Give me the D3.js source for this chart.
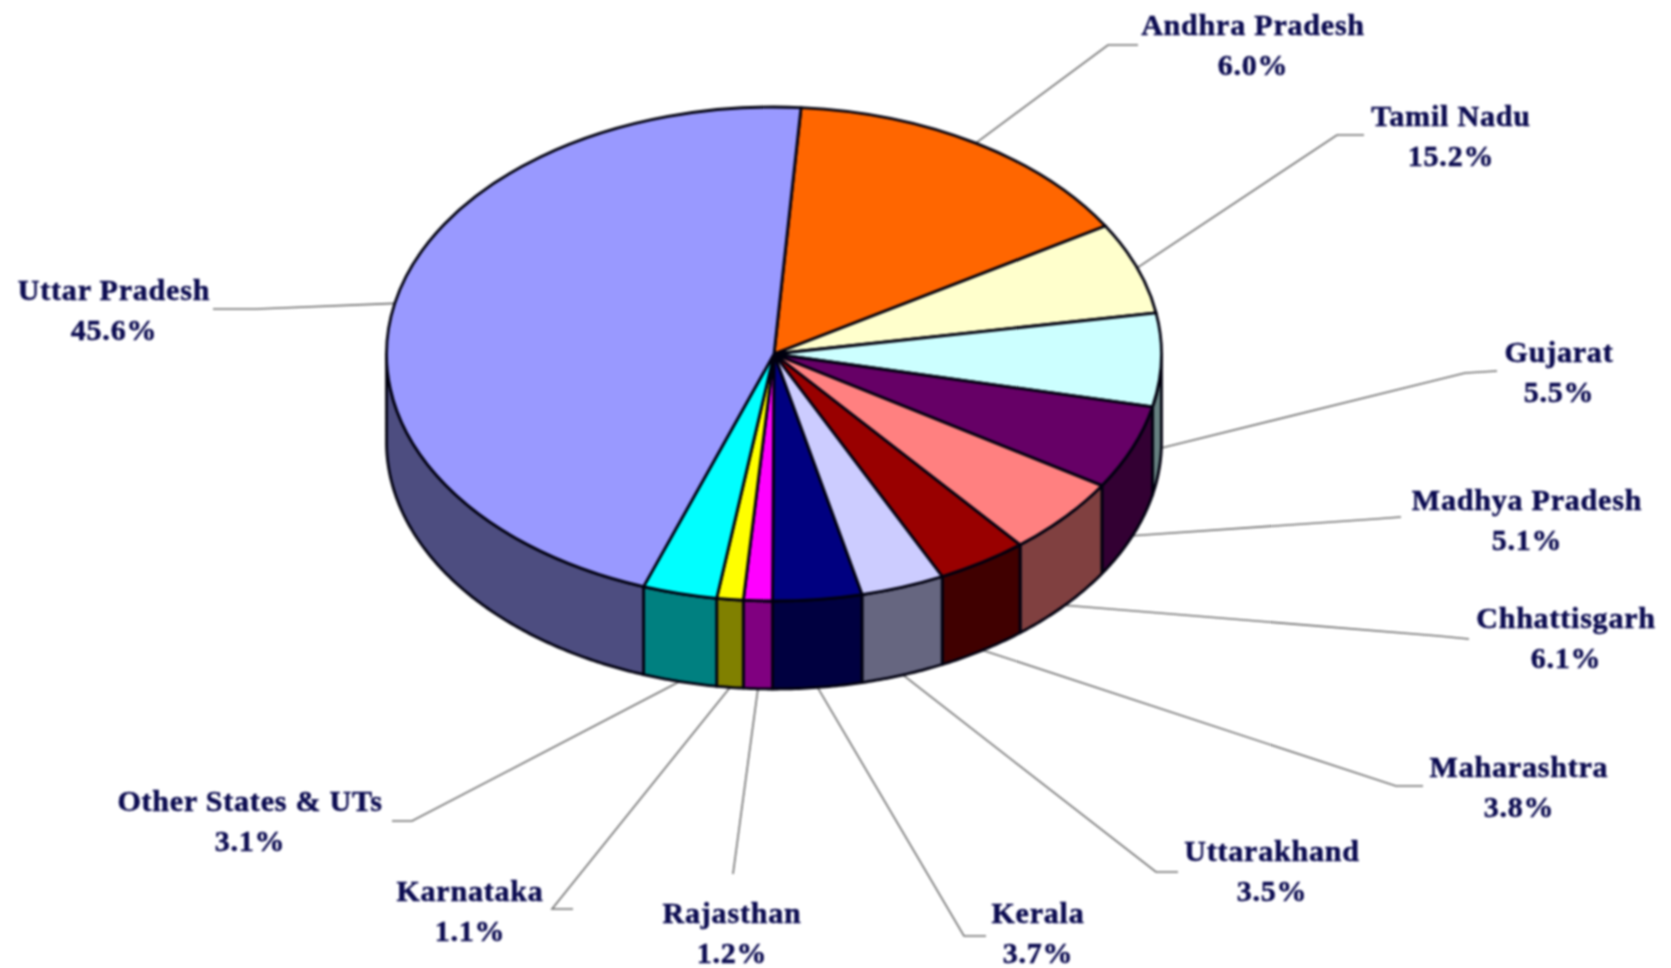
<!DOCTYPE html>
<html><head><meta charset="utf-8">
<script src="https://cdn.jsdelivr.net/npm/d3@7/dist/d3.min.js"></script>
<style>html,body{margin:0;padding:0;background:#fff;overflow:hidden}svg{display:block;filter:blur(.8px)}</style>
</head><body>
<svg id="c" width="1671" height="968"></svg>
<script>
// Slices, clockwise, in the order they are drawn on the pie
const states = ["Andhra Pradesh","Tamil Nadu","Gujarat","Madhya Pradesh","Chhattisgarh","Maharashtra","Uttarakhand","Kerala","Rajasthan","Karnataka","Other States & UTs","Uttar Pradesh"];
const printedLabels = ["6.0%","15.2%","5.5%","5.1%","6.1%","3.8%","3.5%","3.7%","1.2%","1.1%","3.1%","45.6%"];
const sliceValues = [15.2,6.0,6.1,5.5,5.1,3.8,3.5,3.7,1.2,1.1,3.1,45.6];
const sliceColors = ["#FF6600","#FFFFCC","#CCFFFF","#660066","#FF8080","#990000","#CCCCFF","#000080","#FF00FF","#FFFF00","#00FFFF","#9999FF"];

// Layout
const W=1671,H=968,cx=774,cy=354,rx=387.5,ry=247,depth=88,startDeg=4;
const labelPos=[[1253,26],[1451,117],[1559,353],[1527,501],[1566,619],[1519,768],[1272,852],[1038,914],[732,914],[470,892],[250,802],[114,291]];
const elbows=[[[1138,45],[1108,45]],[[1364,135],[1337,135]],[[1497,371],[1465,373]],[[1401,517],[1375,519]],[[1469,639],[1439,636]],[[1423,786],[1396,786]],[[1178,872],[1156,872]],[[986,936],[964,936]],[[733,874]],[[573,909],[552,909]],[[392,821],[412,821]],[[213,309],[256,309]]];

const svg=d3.select("#c");
const start=startDeg*Math.PI/180;
const pie=d3.pie().sort(null).value(d=>d).startAngle(start).endAngle(start+2*Math.PI);
const arcs=pie(sliceValues);
const X=t=>cx+rx*Math.sin(t), Y=t=>cy-ry*Math.cos(t);

// leader lines
const line=d3.line();
svg.append("g").selectAll("path").data(arcs).join("path")
  .attr("d",(a,i)=>{
    const m=(a.startAngle+a.endAngle)/2;
    const y=Y(m)+(Math.cos(m)<0?depth:0);
    return line([...elbows[i],[X(m),y]]);
  }).attr("fill","none").attr("stroke","#6e6e6e").attr("stroke-width",1.6);

// side walls on the front half
const PI=Math.PI;
const area=d3.area().x(X).y0(Y).y1(t=>Y(t)+depth);
const walls=svg.append("g");
arcs.forEach((a,i)=>{
  const lo=Math.max(a.startAngle,PI/2),hi=Math.min(a.endAngle,3*PI/2);
  if(hi<=lo) return;
  const n=Math.ceil((hi-lo)/0.01);
  const ts=d3.range(n+1).map(k=>lo+(hi-lo)*k/n);
  const c=d3.rgb(sliceColors[i]);
  const dark=i===5?d3.rgb("#400000"):d3.rgb(c.r*.5,c.g*.5,c.b*.5);
  walls.append("path").attr("d",area(ts)).attr("fill",dark).attr("stroke","#00000f").attr("stroke-width",2.8).attr("stroke-linejoin","round");
});

// top face
const arc=d3.arc().innerRadius(0).outerRadius(rx);
svg.append("g").attr("transform",`translate(${cx},${cy}) scale(1,${ry/rx})`)
  .selectAll("path").data(arcs).join("path")
  .attr("d",arc).attr("fill",(a,i)=>sliceColors[i])
  .attr("stroke","#00000f").attr("stroke-width",2.8).attr("vector-effect","non-scaling-stroke").attr("stroke-linejoin","round");

// labels
const lab=svg.append("g").attr("font-family","'Liberation Serif',serif").attr("font-weight","bold").attr("font-size",30).attr("letter-spacing",0.8).attr("fill","#0b0b50").attr("stroke","#0b0b50").attr("stroke-width",0.5).attr("text-anchor","middle");
states.forEach((s,i)=>{
  lab.append("text").attr("x",labelPos[i][0]).attr("y",labelPos[i][1]+9).text(s);
  lab.append("text").attr("x",labelPos[i][0]).attr("y",labelPos[i][1]+49).text(printedLabels[i]);
});
</script>
</body></html>
